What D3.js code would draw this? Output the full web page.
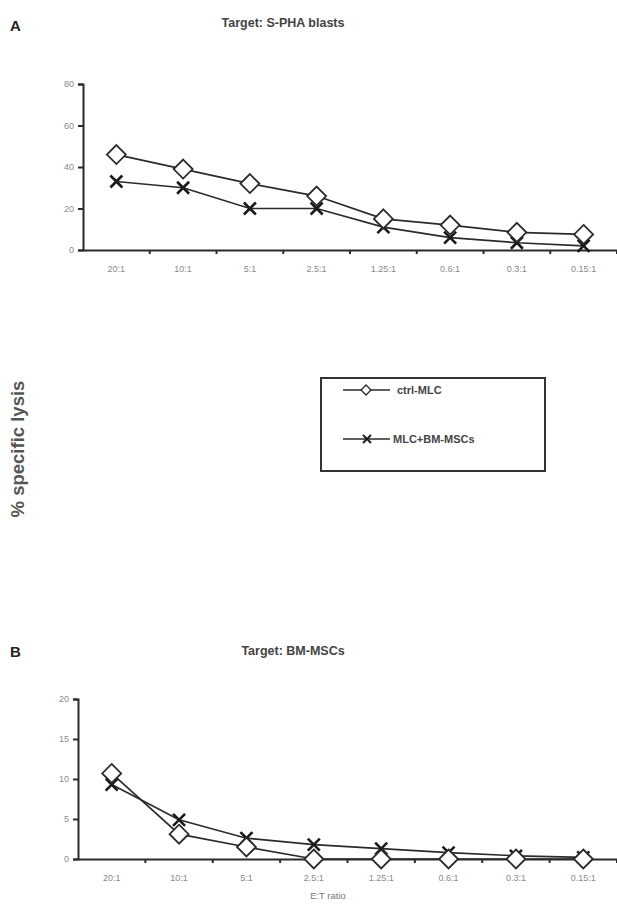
<!DOCTYPE html>
<html><head><meta charset="utf-8">
<script src="https://cdn.jsdelivr.net/npm/d3@7"></script>
<style>body{margin:0;background:#fff;} svg{display:block;font-family:"Liberation Sans",Arial,sans-serif;}</style>
</head><body>
<script>
const categories = ["20:1","10:1","5:1","2.5:1","1.25:1","0.6:1","0.3:1","0.15:1"];
const aCtrl = [46, 39, 32, 26, 15, 12, 8.5, 7.5];
const aMsc  = [33, 30, 20, 20, 11, 6, 3.5, 2];
const aTicks = [0, 20, 40, 60, 80];
const bCtrl = [10.7, 3.1, 1.5, 0, 0, 0, 0, 0];
const bMsc  = [9.3, 4.9, 2.6, 1.8, 1.3, 0.8, 0.4, 0.2];
const bTicks = [0, 5, 10, 15, 20];
const seriesNames = ["ctrl-MLC", "MLC+BM-MSCs"];

const W = 617, H = 905;
const svg = d3.select("body").append("svg").attr("width", W).attr("height", H);
const dark = "#2b2b2b", tickCol = "#8a8a8a";

function diamond(g, x, y, r, sw) {
  g.append("path").attr("d", `M${x},${y-r}L${x+r},${y}L${x},${y+r}L${x-r},${y}Z`)
    .attr("fill", "#fff").attr("stroke", dark).attr("stroke-width", sw);
}
function cross(g, x, y, r, sw) {
  g.append("path").attr("d", `M${x-r},${y-r}L${x+r},${y+r}M${x-r},${y+r}L${x+r},${y-r}`)
    .attr("stroke", "#1a1a1a").attr("stroke-width", sw).attr("fill", "none");
}

function panel(opts) {
  const x = d3.scaleBand().domain(categories).range([opts.x0, opts.x1]);
  const y = d3.scaleLinear().domain([0, opts.max]).range([opts.y0, opts.y1]);
  const g = svg.append("g");
  const ya = g.append("g").attr("transform", `translate(${opts.x0},0)`)
    .call(d3.axisLeft(y).tickValues(opts.ticks).tickSize(5).tickPadding(4));
  ya.select(".domain").attr("stroke", dark).attr("stroke-width", 2);
  ya.selectAll(".tick line").attr("stroke", dark).attr("stroke-width", 2);
  ya.selectAll("text").attr("fill", tickCol).attr("font-size", 9);
  const xa = g.append("g").attr("transform", `translate(0,${opts.y0})`)
    .call(d3.axisBottom(x).tickSize(0).tickPadding(16));
  xa.select(".domain").attr("stroke", dark).attr("stroke-width", 2);
  xa.selectAll("text").attr("fill", tickCol).attr("font-size", 9);
  const bounds = categories.map(c => x(c) + x.bandwidth());
  g.selectAll(".bt").data(bounds).join("line")
    .attr("x1", d => d).attr("x2", d => d).attr("y1", opts.y0).attr("y2", opts.y0 + 4)
    .attr("stroke", dark).attr("stroke-width", 2);
  const cx = c => x(c) + x.bandwidth() / 2;
  const line = d3.line().x((d, i) => cx(categories[i])).y(d => y(d));
  [opts.ctrl, opts.msc].forEach(s => {
    g.append("path").attr("d", line(s)).attr("fill", "none")
      .attr("stroke", dark).attr("stroke-width", 1.7);
  });
  opts.msc.forEach((v, i) => cross(g, cx(categories[i]), y(v), 6, 2.6));
  opts.ctrl.forEach((v, i) => diamond(g, cx(categories[i]), y(v), 9.5, 1.8));
  return g;
}

panel({x0: 83, x1: 617, y0: 250, y1: 84, max: 80, ticks: aTicks, ctrl: aCtrl, msc: aMsc});
panel({x0: 78, x1: 617, y0: 859, y1: 699, max: 20, ticks: bTicks, ctrl: bCtrl, msc: bMsc});

svg.append("text").attr("x", 10).attr("y", 31).text("A")
  .attr("font-weight", "bold").attr("font-size", 15).attr("fill", "#222");
svg.append("text").attr("x", 283).attr("y", 27).text("Target: S-PHA blasts")
  .attr("text-anchor", "middle").attr("font-weight", "bold").attr("font-size", 12.5).attr("fill", "#444");
svg.append("text").attr("x", 10).attr("y", 657).text("B")
  .attr("font-weight", "bold").attr("font-size", 15).attr("fill", "#222");
svg.append("text").attr("x", 293).attr("y", 655).text("Target: BM-MSCs")
  .attr("text-anchor", "middle").attr("font-weight", "bold").attr("font-size", 12.5).attr("fill", "#444");
svg.append("text").attr("transform", "translate(24,449) rotate(-90)").text("% specific lysis")
  .attr("text-anchor", "middle").attr("font-weight", "bold").attr("font-size", 18.5).attr("fill", "#555");
svg.append("text").attr("x", 328).attr("y", 899).text("E:T ratio")
  .attr("text-anchor", "middle").attr("font-size", 9.5).attr("fill", "#777");

const lg = svg.append("g");
lg.append("rect").attr("x", 321).attr("y", 378).attr("width", 224).attr("height", 93)
  .attr("fill", "#fff").attr("stroke", "#333").attr("stroke-width", 2);
const legY = [390, 439];
seriesNames.forEach((n, i) => {
  lg.append("line").attr("x1", 343).attr("x2", 390).attr("y1", legY[i]).attr("y2", legY[i])
    .attr("stroke", dark).attr("stroke-width", 1.6);
  if (i === 0) diamond(lg, 366, legY[i], 5, 1.4); else cross(lg, 367, legY[i], 4, 1.8);
  lg.append("text").attr("x", i === 0 ? 397 : 393).attr("y", legY[i] + 4).text(n)
    .attr("font-weight", "bold").attr("font-size", 11).attr("fill", "#444");
});
</script>
</body></html>
